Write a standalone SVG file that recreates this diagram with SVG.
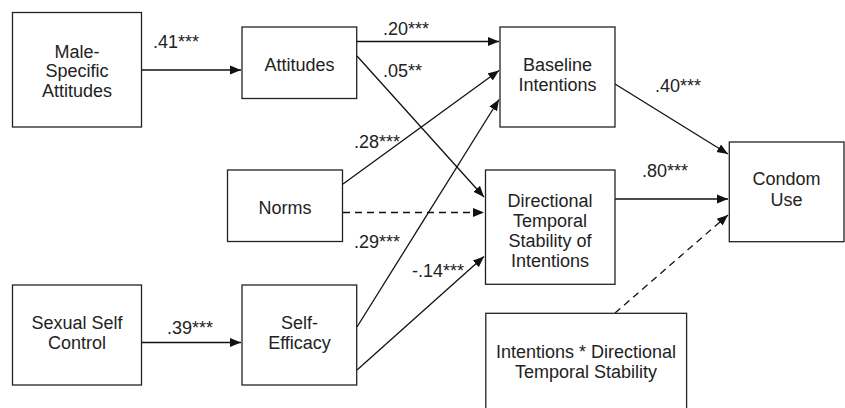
<svg xmlns="http://www.w3.org/2000/svg" width="845" height="408" viewBox="0 0 845 408">
<style>
.box{fill:#fff;stroke:#222;stroke-width:1.3}
text{font-family:"Liberation Sans",Arial,sans-serif;font-size:18px;fill:#222}
.c{text-anchor:middle}
.ln{fill:none;stroke:#111;stroke-width:1.3}
.d{stroke-dasharray:7,5}
</style>
<defs>
<marker id="ah" markerUnits="userSpaceOnUse" markerWidth="12" markerHeight="10" refX="11" refY="5" orient="auto">
<path d="M0,0.5 L11,5 L0,9.5 Z" fill="#111"/>
</marker>
</defs>
<rect width="845" height="408" fill="#fff"/>
<g id="connectors">
<line class="ln" x1="142" y1="70" x2="241" y2="70" marker-end="url(#ah)"/>
<line class="ln" x1="357" y1="41.5" x2="499" y2="41.5" marker-end="url(#ah)"/>
<line class="ln" x1="357" y1="56" x2="484" y2="197" marker-end="url(#ah)"/>
<line class="ln" x1="343" y1="184" x2="499" y2="70.5" marker-end="url(#ah)"/>
<line class="ln d" x1="343" y1="212.5" x2="484" y2="212.5" marker-end="url(#ah)"/>
<line class="ln" x1="357" y1="327" x2="499" y2="99.5" marker-end="url(#ah)"/>
<line class="ln" x1="357" y1="370" x2="484" y2="256.5" marker-end="url(#ah)"/>
<line class="ln" x1="142" y1="342.5" x2="241" y2="342.5" marker-end="url(#ah)"/>
<line class="ln" x1="615" y1="84" x2="728" y2="154" marker-end="url(#ah)"/>
<line class="ln" x1="615" y1="199" x2="728" y2="199" marker-end="url(#ah)"/>
<line class="ln d" x1="615" y1="313" x2="728" y2="215" marker-end="url(#ah)"/>
<text x="153" y="48">.41***</text>
<text x="383" y="35">.20***</text>
<text x="383" y="77">.05**</text>
<text x="354" y="148">.28***</text>
<text x="354" y="248">.29***</text>
<text x="412" y="277">-.14***</text>
<text x="167" y="334">.39***</text>
<text x="655" y="92">.40***</text>
<text x="642" y="177">.80***</text>
</g>
<g id="male-specific-attitudes">
<rect class="box" x="12.5" y="12.5" width="129" height="114.5"/>
<text class="c" x="77" y="57.5">Male-</text>
<text class="c" x="77" y="77">Specific</text>
<text class="c" x="77" y="96.7">Attitudes</text>
</g>
<g id="attitudes">
<rect class="box" x="242" y="27" width="114.7" height="71.5"/>
<text class="c" x="299.5" y="70.5">Attitudes</text>
</g>
<g id="baseline-intentions">
<rect class="box" x="500" y="27" width="115" height="100"/>
<text class="c" x="557.5" y="71">Baseline</text>
<text class="c" x="557.5" y="90.7">Intentions</text>
</g>
<g id="norms">
<rect class="box" x="227.5" y="170" width="115" height="71.5"/>
<text class="c" x="285" y="214">Norms</text>
</g>
<g id="directional-temporal-stability">
<rect class="box" x="485.5" y="170" width="129.5" height="114.3"/>
<text class="c" x="550" y="207.3">Directional</text>
<text class="c" x="550" y="227.3">Temporal</text>
<text class="c" x="550" y="247.3">Stability of</text>
<text class="c" x="550" y="267.3">Intentions</text>
</g>
<g id="condom-use">
<rect class="box" x="729.3" y="142" width="114.7" height="99.7"/>
<text class="c" x="786.5" y="185">Condom</text>
<text class="c" x="786.5" y="205.5">Use</text>
</g>
<g id="sexual-self-control">
<rect class="box" x="12.5" y="285" width="129" height="100"/>
<text class="c" x="77" y="328.5">Sexual Self</text>
<text class="c" x="77" y="349">Control</text>
</g>
<g id="self-efficacy">
<rect class="box" x="242" y="285" width="114.7" height="100"/>
<text class="c" x="299.5" y="328.5">Self-</text>
<text class="c" x="299.5" y="349">Efficacy</text>
</g>
<g id="interaction">
<rect class="box" x="485.8" y="313.3" width="200.8" height="110"/>
<text class="c" x="586" y="358">Intentions * Directional</text>
<text class="c" x="586" y="377.7">Temporal Stability</text>
</g>
</svg>
